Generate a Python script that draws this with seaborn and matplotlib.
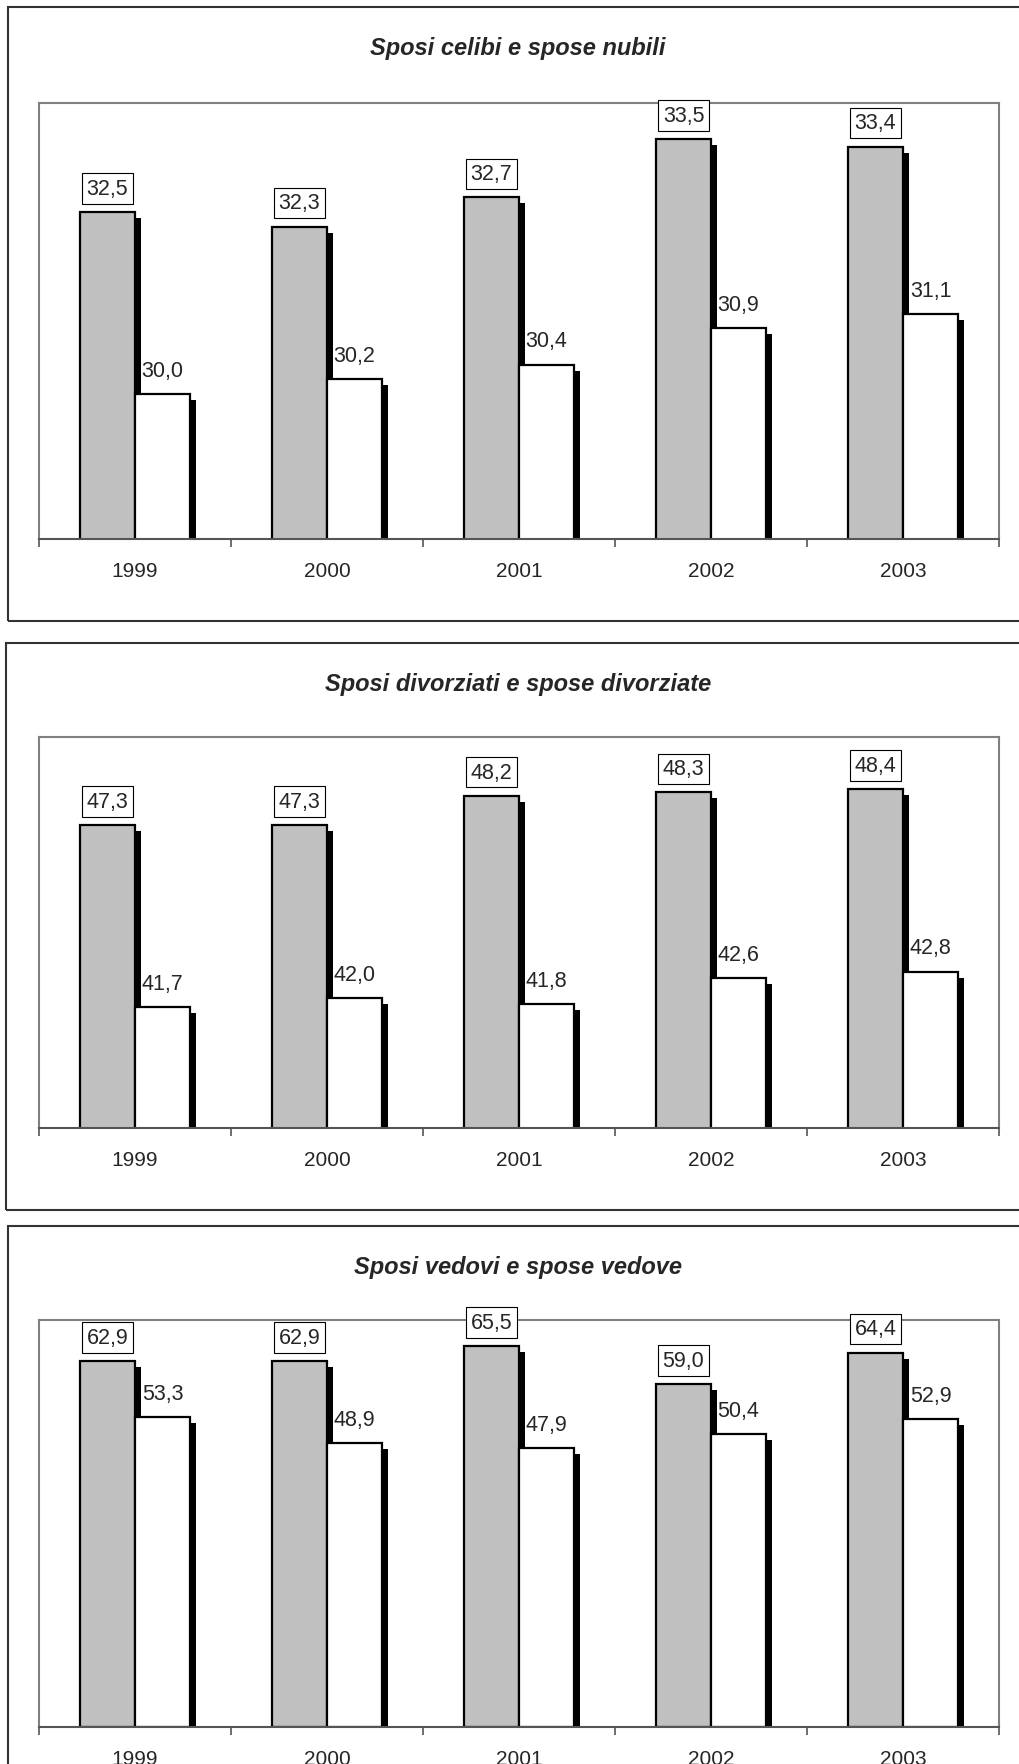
import pandas as pd
import seaborn as sns
import matplotlib.pyplot as plt
import matplotlib.patheffects as pe
from matplotlib.patches import Rectangle

years = ["1999", "2000", "2001", "2002", "2003"]
titles = ["Sposi celibi e spose nubili",
          "Sposi divorziati e spose divorziate",
          "Sposi vedovi e spose vedove"]

# eta media sposi / spose
sposi_celibi = [32.5, 32.3, 32.7, 33.5, 33.4]
spose_nubili = [30.0, 30.2, 30.4, 30.9, 31.1]
sposi_divorziati = [47.3, 47.3, 48.2, 48.3, 48.4]
spose_divorziate = [41.7, 42.0, 41.8, 42.6, 42.8]
sposi_vedovi = [62.9, 62.9, 65.5, 59.0, 64.4]
spose_vedove = [53.3, 48.9, 47.9, 50.4, 52.9]

series = [(sposi_celibi, spose_nubili), (sposi_divorziati, spose_divorziate),
          (sposi_vedovi, spose_vedove)]
ylims = [(28, 34), (38, 50), (0, 70)]

sns.set_style("white")
plt.rcParams["font.family"] = ["Liberation Sans", "DejaVu Sans"]

W, H = 1019, 1765
fig = plt.figure(figsize=(W / 100, H / 100), dpi=100)

# plot areas (pixels: top, bottom) and frames (top, bottom, left)
areas = [(104, 540), (738, 1129), (1321, 1728)]
frames = [(8, 622, 8), (644, 1211, 6), (1227, 1800, 8)]
title_y = [49, 684, 1268]

for i in range(3):
    ft, fb, fl = frames[i]
    fig.patches.append(Rectangle((fl / W, 1 - fb / H), 1.2, (fb - ft) / H,
                                 transform=fig.transFigure, fill=False,
                                 edgecolor="#333333", linewidth=1.5, zorder=0))
    fig.text(518 / W, 1 - title_y[i] / H, titles[i], ha="center", va="center",
             fontsize=17, fontweight="bold", style="italic")

    top, bot = areas[i]
    ax = fig.add_axes([39 / W, 1 - bot / H, 960 / W, (bot - top) / H])

    m, f = series[i]
    df = pd.DataFrame({"anno": years * 2, "eta": m + f,
                       "sesso": ["Sposi"] * 5 + ["Spose"] * 5})
    sns.barplot(df, x="anno", y="eta", hue="sesso", palette=["#C0C0C0", "white"],
                edgecolor="black", linewidth=1.6, width=0.573, gap=0,
                saturation=1, legend=False, ax=ax)

    for p in ax.patches:
        p.set_path_effects([pe.SimplePatchShadow(offset=(4.3, -4.3),
                                                 shadow_rgbFace="black", alpha=1),
                            pe.Normal()])

    for j, p in enumerate(ax.patches):
        v = p.get_height()
        xc = p.get_x() + p.get_width() / 2
        lab = f"{v:.1f}".replace(".", ",")
        if j < 5:
            box = dict(boxstyle="square,pad=0.22", facecolor="white",
                       edgecolor="black", linewidth=0.8)
        else:
            box = None
        ax.annotate(lab, (xc, v), xytext=(0, 17), textcoords="offset points",
                    ha="center", va="center", fontsize=15.5, bbox=box,
                    zorder=10, annotation_clip=False)

    ax.set_ylim(*ylims[i])
    ax.set_xlim(-0.5, 4.5)
    ax.set_yticks([])
    ax.set_xlabel("")
    ax.set_ylabel("")
    ax.set_xticks(range(5))
    ax.set_xticklabels(years)
    ax.set_xticks([k - 0.5 for k in range(6)], minor=True)
    ax.tick_params(axis="x", which="major", length=0, pad=16, labelsize=15)
    ax.tick_params(axis="x", which="minor", length=6, width=1.2,
                   color="#555555", direction="out", bottom=True)
    for s in ax.spines.values():
        s.set_color("#808080")
        s.set_linewidth(1.5)
    ax.spines["bottom"].set_color("#555555")

fig.savefig("out.png", dpi=100)
